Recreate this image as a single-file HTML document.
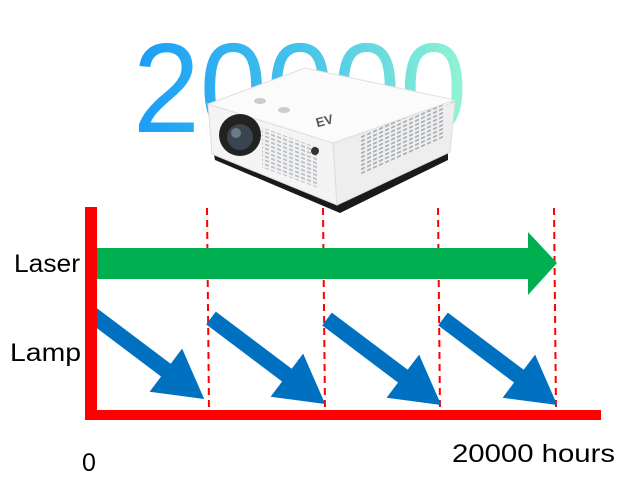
<!DOCTYPE html>
<html><head><style>
html,body{margin:0;padding:0;background:#fff;width:635px;height:496px;overflow:hidden}
</style></head><body>
<svg width="635" height="496" viewBox="0 0 635 496" xmlns="http://www.w3.org/2000/svg">
<defs>
<linearGradient id="g" x1="0" x2="1" y1="0" y2="0">
<stop offset="0" stop-color="#1a9cf7"/><stop offset="0.5" stop-color="#45c3ea"/><stop offset="1" stop-color="#92f5d2"/>
</linearGradient>
<pattern id="vent" width="6" height="4" patternUnits="userSpaceOnUse">
<rect width="6" height="4" fill="#f2f2f2"/><rect x="1" y="1" width="4" height="2" fill="#9aa0a8"/>
</pattern>
</defs>
<text x="133" y="132" font-family="Liberation Sans, sans-serif" font-size="127" fill="url(#g)" textLength="334" lengthAdjust="spacingAndGlyphs">20000</text>
<!-- projector -->
<polygon points="213,150 337,200 448,150 448,160 340,213 215,160" fill="#1a1a1a"/>
<polygon points="208,104 333,143 337,205 212,154" fill="#f4f4f4" stroke="#ddd"/>
<polygon points="333,143 455,102 450,152 337,205" fill="#eeeeee" stroke="#ddd"/>
<rect x="360" y="135" width="85" height="40" fill="url(#vent)" transform="skewY(-24) translate(0,160)" opacity="0.8"/>
<polygon points="208,104 305,68 455,100 333,143" fill="#fbfbfb" stroke="#e0e0e0"/>
<circle cx="240" cy="135" r="21" fill="#222"/>
<circle cx="240" cy="137" r="13" fill="#3a4550"/>
<circle cx="236" cy="133" r="5" fill="#6b7a88"/>
<rect x="262" y="130" width="55" height="40" fill="url(#vent)" transform="skewY(20) translate(0,-98)" opacity="0.6"/>
<circle cx="315" cy="151" r="4" fill="#333"/>
<ellipse cx="260" cy="101" rx="6" ry="3" fill="#ccc"/>
<ellipse cx="284" cy="110" rx="6" ry="3" fill="#ccc"/>
<text x="316" y="126" font-family="Liberation Sans, sans-serif" font-size="13" font-weight="bold" fill="#555" transform="rotate(-15 322 122)">EV</text>
<!-- dashed lines -->
<g stroke="#ff0000" stroke-width="2" stroke-dasharray="7,5">
<line x1="207" y1="208" x2="209" y2="410"/>
<line x1="323" y1="208" x2="325" y2="410"/>
<line x1="438" y1="208" x2="440" y2="410"/>
<line x1="554" y1="208" x2="556" y2="410"/>
</g>
<!-- green arrow -->
<polygon points="97,248 528,248 528,232 557,263 528,295 528,279 97,279" fill="#00b050"/>
<!-- blue arrows -->
<clipPath id="c"><rect x="97" y="0" width="600" height="410"/></clipPath>
<g fill="#0070c0" clip-path="url(#c)">
<g transform="translate(90,313) rotate(37)"><polygon points="0,-8 95,-8 95,-27 143,0 95,27 95,8 0,8"/></g>
<g transform="translate(211,318) rotate(37)"><polygon points="0,-8 95,-8 95,-27 143,0 95,27 95,8 0,8"/></g>
<g transform="translate(327,319) rotate(37)"><polygon points="0,-8 95,-8 95,-27 143,0 95,27 95,8 0,8"/></g>
<g transform="translate(443,319) rotate(37)"><polygon points="0,-8 95,-8 95,-27 143,0 95,27 95,8 0,8"/></g>
</g>
<!-- axes -->
<rect x="85" y="207" width="12" height="213" fill="#ff0000"/>
<rect x="85" y="410" width="516" height="10" fill="#ff0000"/>
<g font-family="Liberation Sans, sans-serif" font-size="25" fill="#000">
<text x="14" y="272" textLength="66" lengthAdjust="spacingAndGlyphs">Laser</text>
<text x="10" y="361" textLength="71" lengthAdjust="spacingAndGlyphs">Lamp</text>
<text x="82" y="471">0</text>
<text x="452" y="462" textLength="163" lengthAdjust="spacingAndGlyphs">20000 hours</text>
</g>
</svg>
</body></html>
